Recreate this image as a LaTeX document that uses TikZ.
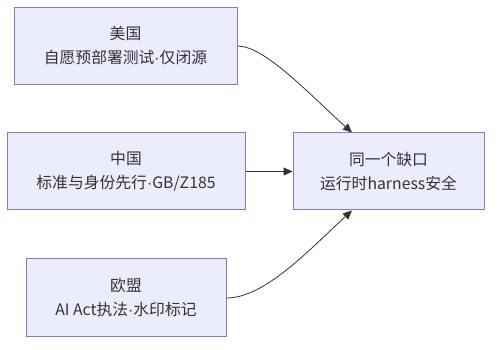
\documentclass[tikz,border=0pt]{standalone}
\usepackage{fontspec}
\setmainfont{Noto Sans CJK SC}
\newfontfamily\narrowfont{Liberation Sans}
\usetikzlibrary{arrows.meta,calc,positioning}
\definecolor{gpInk}{HTML}{333333}
\definecolor{gpEdge}{HTML}{333333}
\definecolor{gpBorder}{HTML}{9370DB}
\definecolor{gpFill}{HTML}{ECECFF}
\newcommand{\middot}{{\narrowfont\textperiodcentered}}
\tikzset{
  every node/.style={font=\fontsize{15.8}{24}\selectfont, text=gpInk},
  regionBox/.style={rectangle, draw=gpBorder, fill=gpFill,
    line width=1pt, minimum height=77pt, align=center, inner sep=0pt},
  gapBox/.style={regionBox, minimum width=191pt},
  feeds/.style={-{Stealth[length=9pt,width=8pt,inset=0pt]}, line width=0.8pt,
    color=gpEdge},
}

\begin{document}
\begin{tikzpicture}[x=1pt,y=1pt]
  \useasboundingbox (0,0) rectangle (500,350);

  % Three regional approaches on the left.
  \node[regionBox, minimum width=223pt] (usa) at (125.5,304)
    {美国\\自愿预部署测试\middot 仅闭源};
  \node[regionBox, minimum width=238pt] (china) at (126,178.5)
    {中国\\标准与身份先行\middot GB/Z185};
  \node[regionBox, minimum width=200pt, minimum height=78pt] (eu) at (126,52)
    {欧盟\\AI Act执法\middot 水印标记};

  % The shared gap they all point to.
  \node[gapBox] (gap) at (388.5,178.5) {同一个缺口\\运行时harness安全};

  \draw[feeds] (usa.east)
    .. controls (265,304) and (310,255) .. ([xshift=-36.5pt]gap.north);
  \draw[feeds] (china.east) -- (gap.west);
  \draw[feeds] (eu.east)
    .. controls (265,52) and (310,101) .. ([xshift=-36.5pt]gap.south);
\end{tikzpicture}
\end{document}
